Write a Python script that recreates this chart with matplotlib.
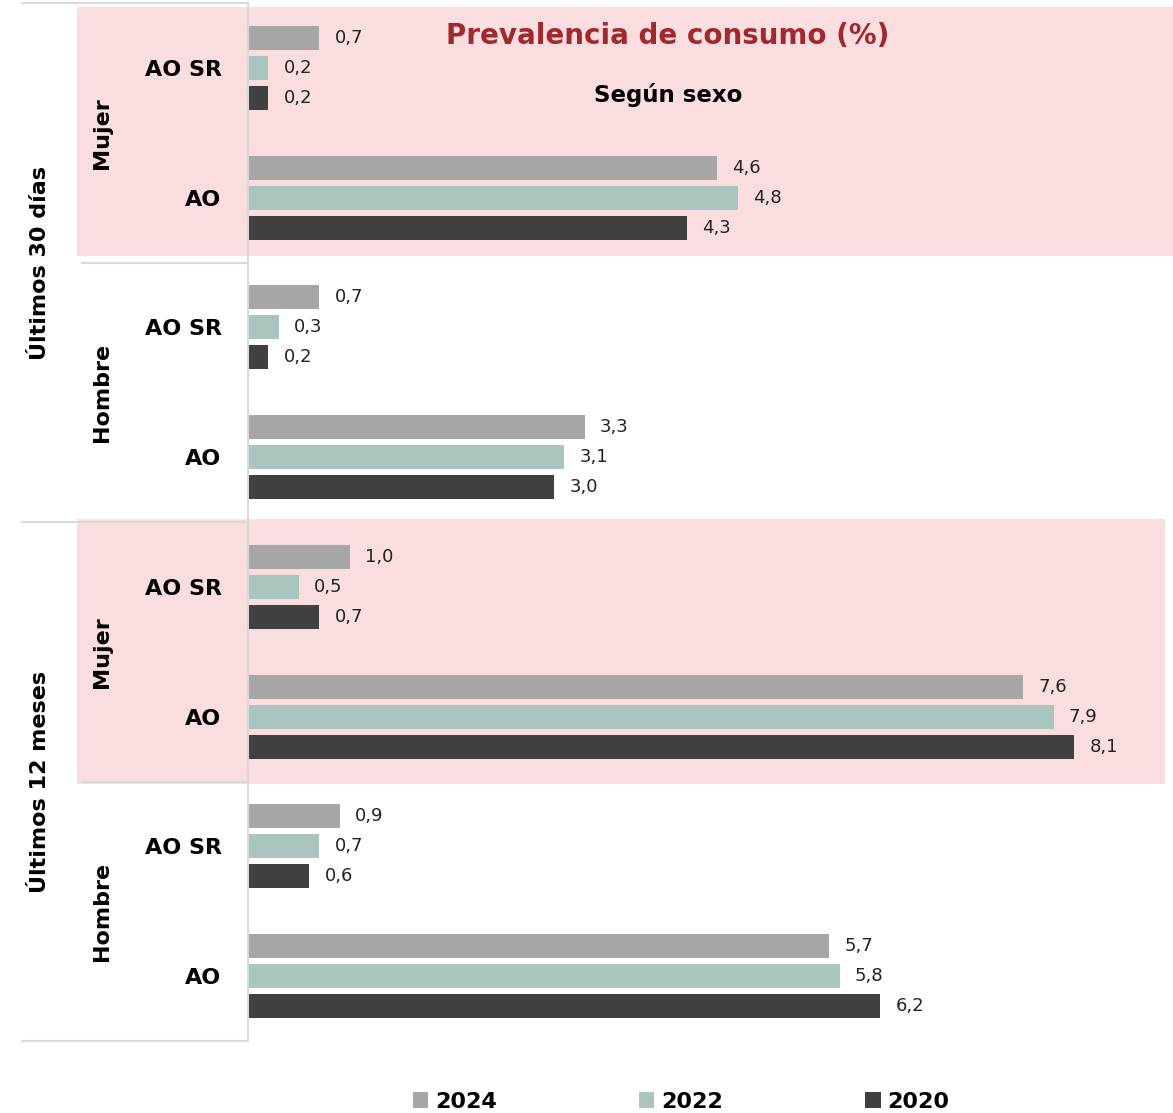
import matplotlib
matplotlib.use("Agg")
import matplotlib.pyplot as plt
from matplotlib.patches import Rectangle, Patch
from matplotlib.lines import Line2D
from matplotlib.transforms import blended_transform_factory
import numpy as np

# ---- data ----
periods = ["Últimos 30 días", "Últimos 12 meses"]
sexes = ["Mujer", "Hombre"]
categories = ["AO SR", "AO"]
years = ["2024", "2022", "2020"]
v2024 = [0.7, 4.6, 0.7, 3.3, 1.0, 7.6, 0.9, 5.7]
v2022 = [0.2, 4.8, 0.3, 3.1, 0.5, 7.9, 0.7, 5.8]
v2020 = [0.2, 4.3, 0.2, 3.0, 0.7, 8.1, 0.6, 6.2]
series = [v2024, v2022, v2020]
colors = ["#A6A6A6", "#AAC5BF", "#404040"]
title = "Prevalencia de consumo (%)"
subtitle = "Según sexo"

W, H = 1173, 1113
fig = plt.figure(figsize=(W / 100, H / 100), dpi=100)
plt.rcParams['font.family'] = ['DejaVu Sans']

ax = fig.add_axes([248 / W, 1 - 1041 / H, 925 / W, 1038 / H])
ax.set_facecolor("none")

n = len(v2024)
y = np.arange(n)
offsets = [-0.231, 0.0, 0.231]
bh = 0.185
for vals, off, col, yr in zip(series, offsets, colors, years):
    ax.barh(y + off, vals, height=bh, color=col, zorder=2, label=yr)
    for yi, v in zip(y, vals):
        ax.annotate(f"{v:.1f}".replace(".", ","), (v, yi + off), xytext=(11, 0),
                    textcoords="offset points", va="center", ha="left",
                    fontsize=13, color="#222222", zorder=3)

ax.set_xlim(0, 9.07)
ax.set_ylim(n - 0.5, -0.5)
ax.set_xticks([])
ax.set_yticks(y)
ax.set_yticklabels(categories * (n // 2), fontsize=16, fontweight="bold")
ax.tick_params(axis="y", length=0, pad=19)
for s in ["top", "right", "bottom"]:
    ax.spines[s].set_visible(False)
ax.spines["left"].set_color("#D9D9D9")
ax.spines["left"].set_linewidth(1.5)

tr = blended_transform_factory(fig.transFigure, ax.transData)

# pink backgrounds (Mujer groups)
ax.add_patch(Rectangle((77 / W, -0.47), 1 - 77 / W, 1.92, transform=tr,
                       facecolor="#FADEDF", edgecolor="none", zorder=0, clip_on=False))
ax.add_patch(Rectangle((77 / W, 3.48), (1165 - 77) / W, 2.04, transform=tr,
                       facecolor="#FADEDF", edgecolor="none", zorder=0, clip_on=False))

# separator lines
for yy, x0 in [(-0.5, 22), (1.5, 82), (3.5, 22), (5.5, 82), (7.5, 22)]:
    ax.add_line(Line2D([x0 / W, 247 / W], [yy, yy], transform=tr, color="#D9D9D9",
                       lw=1.5, clip_on=False, zorder=1))

# group labels
for i, p in enumerate(periods):
    ax.text(40 / W, 1.5 + 4 * i, p, transform=tr, rotation=90, ha="center", va="center",
            fontsize=16, fontweight="bold")
    for j, s in enumerate(sexes):
        ax.text(102 / W, 0.5 + 4 * i + 2 * j, s, transform=tr, rotation=90, ha="center",
                va="center", fontsize=16, fontweight="bold")

fig.text(668 / W, 1 - 36 / H, title, ha="center", va="center", fontsize=20,
         fontweight="bold", color="#A1282E")
fig.text(668 / W, 1 - 95 / H, subtitle, ha="center", va="center", fontsize=16.5,
         fontweight="bold", color="black")

handles = [Patch(facecolor=c, edgecolor="none") for c in colors]
fig.legend(handles, years, loc="center", bbox_to_anchor=(681 / W, 1 - 1102 / H),
           ncol=3, frameon=False, handlelength=0.7, handleheight=0.7,
           handletextpad=0.3, columnspacing=6.4,
           prop={"size": 16, "weight": "bold"})

fig.savefig("out.png", dpi=100, facecolor="white")
